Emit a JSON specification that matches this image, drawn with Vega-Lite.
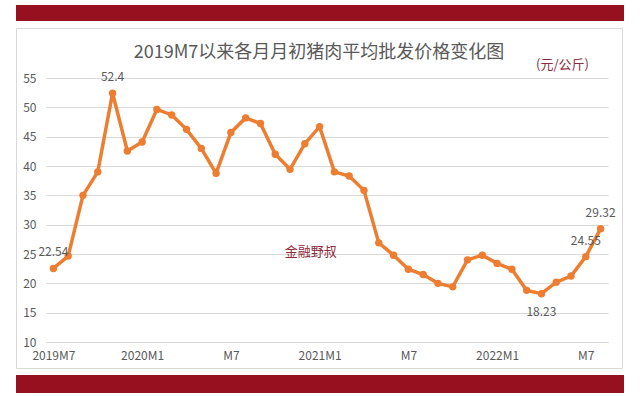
{
  "$schema": "https://vega.github.io/schema/vega-lite/v6.json",
  "padding": {"left": 15, "top": 5, "right": 17, "bottom": 5},
  "autosize": {"type": "pad"},
  "background": "white",
  "spacing": 6,
  "config": {"font": "Noto Sans CJK SC"},
  "vconcat": [
    {
      "width": 608,
      "height": 16,
      "view": {"fill": "#961020", "stroke": null},
      "data": {"values": [{}]},
      "mark": "text",
      "encoding": {"text": {"value": ""}}
    },
    {
      "width": 606,
      "height": 340,
      "view": {"fill": "white", "stroke": "#d9d9d9", "strokeWidth": 1},
      "title": {
        "text": "2019M7以来各月月初猪肉平均批发价格变化图",
        "fontSize": 18,
        "fontWeight": "normal",
        "color": "#595959",
        "anchor": "middle",
        "frame": "group",
        "baseline": "bottom",
        "offset": -52
      },
      "data": {
        "values": [
          {"m": "2019M7", "v": 22.54},
          {"m": "2019M8", "v": 24.66},
          {"m": "2019M9", "v": 35.0},
          {"m": "2019M10", "v": 39.0},
          {"m": "2019M11", "v": 52.4},
          {"m": "2019M12", "v": 42.56},
          {"m": "2020M1", "v": 44.1},
          {"m": "2020M2", "v": 49.65},
          {"m": "2020M3", "v": 48.7},
          {"m": "2020M4", "v": 46.25},
          {"m": "2020M5", "v": 43.0},
          {"m": "2020M6", "v": 38.75},
          {"m": "2020M7", "v": 45.7},
          {"m": "2020M8", "v": 48.2},
          {"m": "2020M9", "v": 47.25},
          {"m": "2020M10", "v": 42.0},
          {"m": "2020M11", "v": 39.43},
          {"m": "2020M12", "v": 43.8},
          {"m": "2021M1", "v": 46.7},
          {"m": "2021M2", "v": 39.0},
          {"m": "2021M3", "v": 38.3},
          {"m": "2021M4", "v": 35.85},
          {"m": "2021M5", "v": 26.9},
          {"m": "2021M6", "v": 24.8},
          {"m": "2021M7", "v": 22.4},
          {"m": "2021M8", "v": 21.5},
          {"m": "2021M9", "v": 20.0},
          {"m": "2021M10", "v": 19.4},
          {"m": "2021M11", "v": 24.0},
          {"m": "2021M12", "v": 24.8},
          {"m": "2022M1", "v": 23.4},
          {"m": "2022M2", "v": 22.4},
          {"m": "2022M3", "v": 18.8},
          {"m": "2022M4", "v": 18.23},
          {"m": "2022M5", "v": 20.2},
          {"m": "2022M6", "v": 21.25},
          {"m": "2022M7", "v": 24.55},
          {"m": "2022M8", "v": 29.32}
        ]
      },
      "encoding": {
        "x": {
          "field": "m",
          "type": "ordinal",
          "sort": null,
          "scale": {"type": "point", "range": [30, 592], "padding": 0.5},
          "axis": {
            "title": null,
            "values": ["2019M7", "2020M1", "2020M7", "2021M1", "2021M7", "2022M1", "2022M7"],
            "labelExpr": "indexof(datum.value, 'M7') > 0 && datum.value != '2019M7' ? 'M7' : datum.value",
            "offset": -26,
            "domainColor": "#d9d9d9",
            "domainWidth": 1,
            "ticks": false,
            "tickSize": 0,
            "labelPadding": 8,
            "labelFontSize": 12,
            "labelColor": "#595959",
            "labelAngle": 0,
            "grid": false
          }
        },
        "y": {
          "field": "v",
          "type": "quantitative",
          "scale": {"domain": [10, 55], "range": [314, 50], "nice": false, "zero": false},
          "axis": {
            "title": "(元/公斤)",
            "titleAngle": 0,
            "titleX": 516,
            "titleY": 36,
            "titleAlign": "center",
            "titleBaseline": "middle",
            "titleColor": "#8B2C3C",
            "titleFontSize": 13,
            "titleFontWeight": "normal",
            "values": [10, 15, 20, 25, 30, 35, 40, 45, 50, 55],
            "domain": false,
            "ticks": false,
            "offset": -30,
            "labelPadding": 10,
            "labelFontSize": 12,
            "labelColor": "#595959",
            "gridColor": "#d9d9d9",
            "gridWidth": 1
          }
        }
      },
      "layer": [
        {"mark": {"type": "line", "color": "#ED7D31", "strokeWidth": 3.5}},
        {"mark": {"type": "point", "filled": true, "color": "#ED7D31", "size": 55, "opacity": 1}},
        {
          "transform": [{"filter": {"field": "m", "oneOf": ["2019M7", "2019M11", "2022M7", "2022M8"]}}],
          "mark": {"type": "text", "dy": -16, "fontSize": 12, "color": "#595959"},
          "encoding": {"text": {"field": "v", "type": "nominal"}}
        },
        {
          "transform": [{"filter": {"field": "m", "equal": "2022M4"}}],
          "mark": {"type": "text", "dy": 18, "fontSize": 12, "color": "#595959"},
          "encoding": {"text": {"field": "v", "type": "nominal"}}
        },
        {
          "data": {"values": [{"m": "2020M12", "v": 25.3, "t": "金融野叔"}]},
          "mark": {"type": "text", "color": "#8E2A3A", "fontSize": 13, "dx": 6},
          "encoding": {
            "text": {"field": "t", "type": "nominal"}
          }
        }
      ]
    },
    {
      "width": 608,
      "height": 18,
      "view": {"fill": "#961020", "stroke": null},
      "data": {"values": [{}]},
      "mark": "text",
      "encoding": {"text": {"value": ""}}
    }
  ]
}
